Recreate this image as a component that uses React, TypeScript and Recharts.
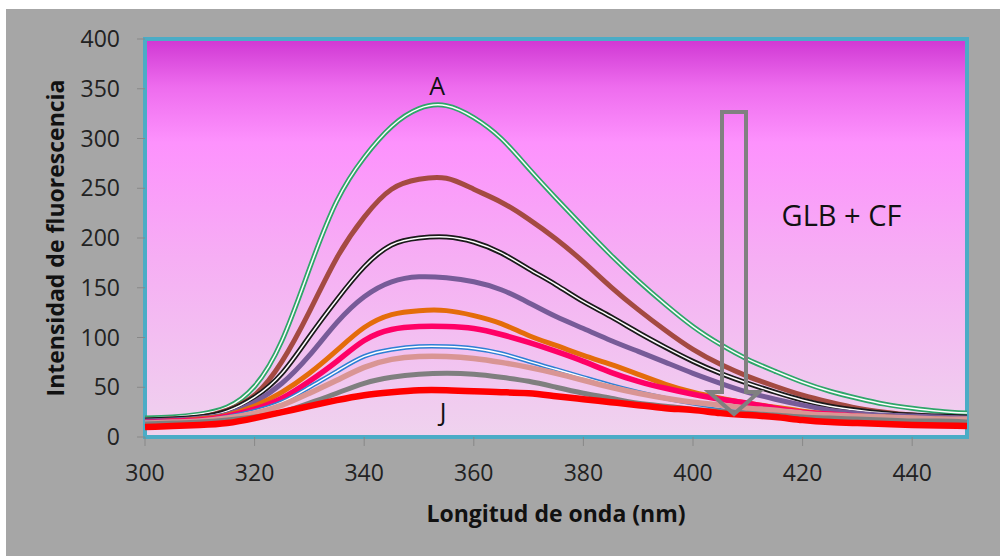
import { LineChart, Line, XAxis, YAxis, ReferenceArea, ReferenceDot } from 'recharts';

const wavelengths = [300, 305, 310, 315, 320, 325, 330, 335, 340, 345, 350, 355, 360, 365, 370, 375, 380, 385, 390, 395, 400, 405, 410, 415, 420, 425, 430, 435, 440, 445, 450];

const serieA = [19, 20, 23, 30, 51, 97, 169, 237, 281, 312, 330, 333, 321, 300, 270, 240, 211, 183, 157, 133, 111, 93, 78, 66, 55, 46, 39, 33, 29, 26, 24];
const serieB = [17, 18, 20, 27, 42, 76, 126, 180, 221, 249, 259, 260, 249, 236, 219, 199, 176, 151, 128, 107, 88, 73, 61, 51, 42, 35, 29, 25, 22, 20, 19];
const serieC = [17, 18, 20, 26, 40, 64, 101, 138, 171, 193, 200, 201, 196, 185, 169, 153, 136, 121, 105, 90, 76, 64, 54, 45, 37, 31, 27, 24, 22, 21, 20];
const serieD = [16, 17, 19, 23, 35, 54, 82, 115, 141, 156, 161, 160, 156, 148, 135, 121, 109, 97, 86, 75, 64, 54, 45, 38, 32, 27, 24, 22, 21, 20, 19];
const serieE = [15, 16, 18, 22, 31, 45, 64, 87, 110, 123, 127, 127, 122, 114, 102, 92, 82, 73, 63, 53, 45, 39, 34, 30, 26, 23, 21, 20, 19, 18, 17];
const serieF = [15, 16, 17, 21, 28, 39, 56, 76, 97, 108, 111, 111, 109, 103, 95, 86, 76, 65, 56, 49, 43, 38, 34, 29, 25, 23, 21, 19, 18, 17, 17];
const serieG = [15, 15, 16, 20, 26, 35, 50, 66, 81, 88, 91, 91, 89, 84, 76, 68, 60, 52, 45, 39, 34, 30, 27, 24, 22, 20, 19, 18, 17, 17, 16];
const serieH = [14, 15, 16, 19, 24, 32, 44, 57, 70, 78, 81, 81, 79, 75, 70, 64, 57, 50, 44, 39, 35, 32, 29, 27, 24, 22, 21, 20, 19, 18, 18];
const serieI = [13, 14, 15, 17, 20, 25, 34, 44, 54, 60, 63, 64, 63, 60, 56, 50, 44, 39, 34, 31, 28, 26, 24, 22, 20, 19, 18, 17, 16, 16, 15];
const serieJ = [10, 11, 12, 14, 19, 25, 31, 37, 42, 45, 47, 47, 46, 45, 44, 41, 38, 35, 32, 29, 27, 24, 22, 20, 17, 15, 14, 13, 12, 11.5, 11];

const xTicks = [300, 320, 340, 360, 380, 400, 420, 440];
const yTicks = [0, 50, 100, 150, 200, 250, 300, 350, 400];

const data = wavelengths.map((wl, i) => ({
  wl,
  A: serieA[i], B: serieB[i], C: serieC[i], D: serieD[i], E: serieE[i],
  F: serieF[i], G: serieG[i], H: serieH[i], I: serieI[i], J: serieJ[i],
}));

// double = Excel "double" line style (colored outline + light core)
const series = [
  { key: 'A', color: '#2fa66a', width: 5, double: true },
  { key: 'B', color: '#a44a42', width: 5, double: false },
  { key: 'C', color: '#1a1a1a', width: 5, double: true },
  { key: 'D', color: '#775b98', width: 5, double: false },
  { key: 'E', color: '#e46c0a', width: 5, double: false },
  { key: 'F', color: '#ff0066', width: 5.5, double: false },
  { key: 'G', color: '#2e7fd4', width: 4.5, double: true },
  { key: 'H', color: '#d99594', width: 5.5, double: false },
  { key: 'I', color: '#7f7f7f', width: 5, double: false },
  { key: 'J', color: '#ff0000', width: 6.5, double: false },
];

const FONT = '"Open Sans", sans-serif';

const App = () => {
  return (
    <div style={{ position: 'absolute', left: 0, top: 0, width: 1000, height: 556, background: '#fff', fontFamily: FONT }}>
      <div style={{ position: 'absolute', left: 6, top: 9, width: 994, height: 547, background: '#a6a6a6' }} />
      <div style={{ position: 'absolute', left: 0, top: 0 }}>
        <LineChart width={1000} height={556} data={data} margin={{ top: 39, right: 33, bottom: 39, left: 0 }}>
          <defs>
            <linearGradient id="plotBg" x1="0" y1="0" x2="0" y2="1">
              <stop offset="0%" stopColor="#cf37d3" />
              <stop offset="12%" stopColor="#ee6cee" />
              <stop offset="26%" stopColor="#fd92fd" />
              <stop offset="55%" stopColor="#f6aef4" />
              <stop offset="100%" stopColor="#efd3ee" />
            </linearGradient>
          </defs>
          <XAxis
            dataKey="wl"
            type="number"
            domain={[300, 450]}
            ticks={xTicks}
            height={80}
            axisLine={false}
            tickSize={9}
            tickMargin={19}
            tickLine={{ stroke: '#888' }}
            tick={{ fill: '#222', fontSize: 23, fontFamily: FONT }}
          />
          <YAxis
            type="number"
            domain={[0, 400]}
            ticks={yTicks}
            width={145}
            axisLine={false}
            tickSize={8}
            tickMargin={17}
            tickLine={{ stroke: '#888' }}
            tick={{ fill: '#222', fontSize: 23, fontFamily: FONT }}
          />
          <ReferenceArea x1={300} x2={450} y1={0} y2={400} fill="url(#plotBg)" fillOpacity={1} stroke="#4bacc6" strokeWidth={4} />
          {series.map(s => [
            <Line
              key={s.key}
              type="natural"
              dataKey={s.key}
              stroke={s.color}
              strokeWidth={s.width}
              dot={false}
              activeDot={false}
              isAnimationActive={false}
            />,
            s.double ? (
              <Line
                key={s.key + '-core'}
                type="natural"
                dataKey={s.key}
                stroke="#ffffff"
                strokeWidth={1.5}
                dot={false}
                activeDot={false}
                isAnimationActive={false}
              />
            ) : null,
          ])}
          <ReferenceDot x={353.3} y={353} r={0} label={{ value: 'A', position: 'center', fontSize: 25, fill: '#111', fontFamily: FONT }} />
          <ReferenceDot x={354.4} y={25} r={0} label={{ value: 'J', position: 'center', fontSize: 25, fill: '#111', fontFamily: FONT }} />
          <ReferenceDot x={427.1} y={222} r={0} label={{ value: 'GLB + CF', position: 'center', fontSize: 29, fill: '#111', fontFamily: FONT }} />
        </LineChart>
      </div>
      <svg width={1000} height={556} style={{ position: 'absolute', left: 0, top: 0, pointerEvents: 'none' }}>
        <path d="M722,112 L746,112 L746,392 L759,392 L734,414 L709,392 L722,392 Z" fill="none" stroke="#808080" strokeWidth={4} />
        <text x={556} y={522} textAnchor="middle" fontSize={23} fontWeight="bold" fill="#111" fontFamily={FONT}>Longitud de onda (nm)</text>
        <text x={0} y={0} transform="translate(64,238) rotate(-90)" textAnchor="middle" fontSize={23} fontWeight="bold" fill="#111" fontFamily={FONT}>Intensidad de fluorescencia</text>
      </svg>
    </div>
  );
};

export default App;
